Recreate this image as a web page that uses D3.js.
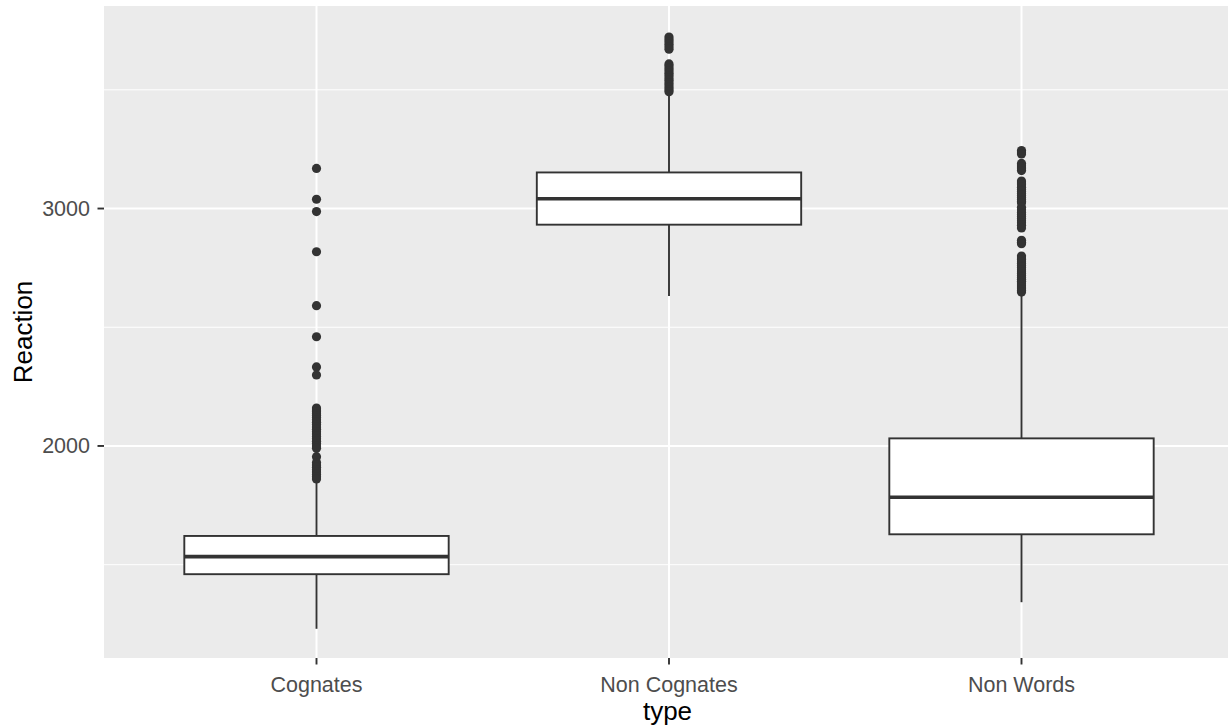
<!DOCTYPE html>
<html>
<head>
<meta charset="utf-8">
<script src="https://cdn.jsdelivr.net/npm/d3@7"></script>
<style>
  html, body { margin: 0; padding: 0; background: #ffffff; }
  svg { display: block; }
  text { font-family: "Liberation Sans", Arial, sans-serif; }
</style>
</head>
<body>
<svg id="chart" width="1228" height="727"></svg>
<script>
// Reaction time by word type: five-number summaries and outliers
const categories = ["Cognates", "Non Cognates", "Non Words"];
const whiskerLow  = [1230, 2632, 1342];
const q1          = [1460, 2932, 1628];
const median      = [1534, 3041, 1784];
const q3          = [1621, 3152, 2032];
const whiskerHigh = [1852, 3478, 2640];

const outliersCognates = [3169, 3039, 2987, 2818, 2591, 2460, 2333, 2299,
  2160, 2152, 2144, 2136, 2128, 2120, 2110, 2100, 2090, 2080, 2070, 2060,
  2050, 2040, 2030, 2020, 2010, 2000, 1990, 1955, 1930, 1920, 1910, 1900,
  1890, 1880, 1870, 1861];
const outliersNonCognates = [3722, 3712, 3702, 3692, 3681, 3671,
  3609, 3600, 3590, 3580, 3570, 3560, 3550, 3540, 3530, 3520, 3510, 3500, 3492];
const outliersNonWords = [3244, 3238, 3230, 3190, 3183, 3175, 3168, 3160,
  3116, 3108, 3100, 3090, 3080, 3072, 3063, 3055, 3046, 3038, 3030, 3024,
  3005, 2995, 2983, 2975, 2966, 2958, 2949, 2940, 2930, 2918, 2866, 2858,
  2852, 2800, 2792, 2785, 2776, 2768, 2760, 2752, 2742, 2734, 2726, 2718,
  2710, 2702, 2694, 2686, 2678, 2670, 2662, 2655, 2648];
const outliers = [outliersCognates, outliersNonCognates, outliersNonWords];

const yMajorTicks = [2000, 3000];
const yMinorTicks = [1500, 2500, 3500];
const xTitle = "type";
const yTitle = "Reaction";

const panel = { left: 104, top: 6, right: 1228, bottom: 658 };

const svg = d3.select("#chart");

const x = d3.scalePoint()
  .domain(categories)
  .range([105, 1233])
  .padding(0.6);
const step = x.step();
const boxW = step * 0.75;

const y = d3.scaleLinear()
  .domain([1107, 3853])
  .range([panel.bottom, panel.top]);

// panel background
svg.append("rect")
  .attr("x", panel.left).attr("y", panel.top)
  .attr("width", panel.right - panel.left)
  .attr("height", panel.bottom - panel.top)
  .attr("fill", "#EBEBEB");

svg.append("clipPath").attr("id", "panelClip")
  .append("rect")
  .attr("x", panel.left).attr("y", panel.top)
  .attr("width", panel.right - panel.left)
  .attr("height", panel.bottom - panel.top);

const g = svg.append("g").attr("clip-path", "url(#panelClip)");

// grid lines
g.selectAll(".minor").data(yMinorTicks).enter().append("line")
  .attr("x1", panel.left).attr("x2", panel.right)
  .attr("y1", d => y(d)).attr("y2", d => y(d))
  .attr("stroke", "#ffffff").attr("stroke-width", 1);
g.selectAll(".major").data(yMajorTicks).enter().append("line")
  .attr("x1", panel.left).attr("x2", panel.right)
  .attr("y1", d => y(d)).attr("y2", d => y(d))
  .attr("stroke", "#ffffff").attr("stroke-width", 2);
g.selectAll(".vmajor").data(categories).enter().append("line")
  .attr("x1", d => x(d)).attr("x2", d => x(d))
  .attr("y1", panel.top).attr("y2", panel.bottom)
  .attr("stroke", "#ffffff").attr("stroke-width", 2);

// boxes
const ink = "#333333";
categories.forEach((c, i) => {
  const cx = x(c);
  const gb = g.append("g");
  gb.append("line")
    .attr("x1", cx).attr("x2", cx)
    .attr("y1", y(q3[i])).attr("y2", y(whiskerHigh[i]))
    .attr("stroke", ink).attr("stroke-width", 1.9);
  gb.append("line")
    .attr("x1", cx).attr("x2", cx)
    .attr("y1", y(q1[i])).attr("y2", y(whiskerLow[i]))
    .attr("stroke", ink).attr("stroke-width", 1.9);
  gb.append("rect")
    .attr("x", cx - boxW / 2).attr("y", y(q3[i]))
    .attr("width", boxW).attr("height", y(q1[i]) - y(q3[i]))
    .attr("fill", "#ffffff").attr("stroke", ink).attr("stroke-width", 1.9);
  gb.append("line")
    .attr("x1", cx - boxW / 2).attr("x2", cx + boxW / 2)
    .attr("y1", y(median[i])).attr("y2", y(median[i]))
    .attr("stroke", ink).attr("stroke-width", 3.6);
  gb.selectAll("circle").data(outliers[i]).enter().append("circle")
    .attr("cx", cx).attr("cy", d => y(d))
    .attr("r", 4.6).attr("fill", ink);
});

// y axis ticks and labels
const tickCol = "#333333";
const labCol = "#4D4D4D";
yMajorTicks.forEach(t => {
  svg.append("line")
    .attr("x1", panel.left - 6.5).attr("x2", panel.left)
    .attr("y1", y(t)).attr("y2", y(t))
    .attr("stroke", tickCol).attr("stroke-width", 1.9);
  svg.append("text")
    .attr("x", panel.left - 14).attr("y", y(t))
    .attr("dy", "0.35em")
    .attr("text-anchor", "end")
    .attr("font-size", 21.5)
    .attr("fill", labCol)
    .text(t);
});

// x axis ticks and labels
categories.forEach(c => {
  svg.append("line")
    .attr("x1", x(c)).attr("x2", x(c))
    .attr("y1", panel.bottom).attr("y2", panel.bottom + 6.5)
    .attr("stroke", tickCol).attr("stroke-width", 1.9);
  svg.append("text")
    .attr("x", x(c)).attr("y", 692)
    .attr("text-anchor", "middle")
    .attr("font-size", 21.5)
    .attr("fill", labCol)
    .text(c);
});

// axis titles
svg.append("text")
  .attr("x", (panel.left + 1233) / 2 - 1).attr("y", 720)
  .attr("text-anchor", "middle")
  .attr("font-size", 26)
  .attr("fill", "#000000")
  .text(xTitle);

svg.append("text")
  .attr("transform", `translate(32, ${(panel.top + panel.bottom) / 2}) rotate(-90)`)
  .attr("text-anchor", "middle")
  .attr("font-size", 26)
  .attr("fill", "#000000")
  .text(yTitle);
</script>
</body>
</html>
